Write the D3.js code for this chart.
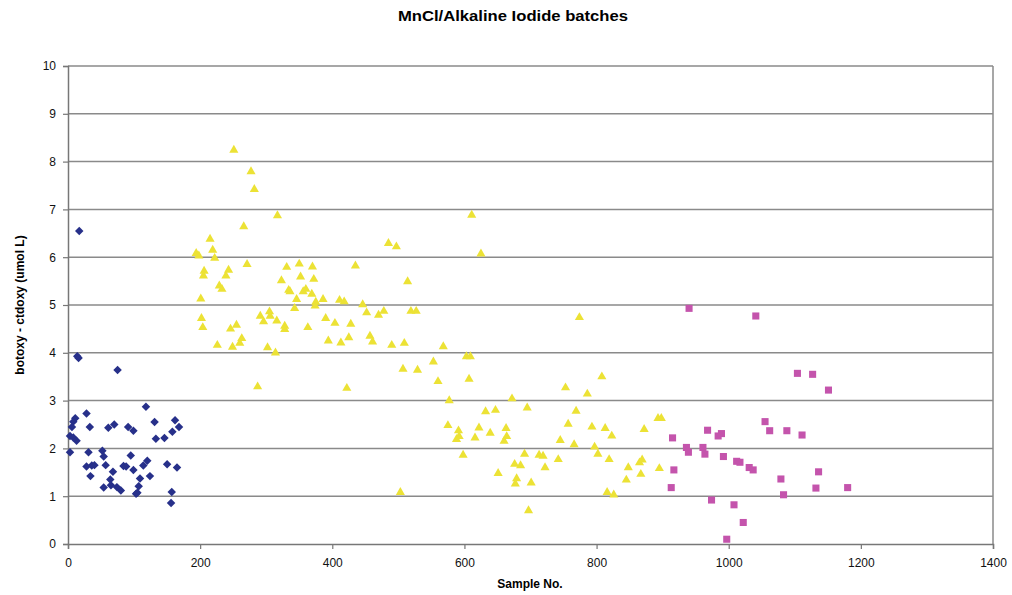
<!DOCTYPE html>
<html>
<head>
<meta charset="utf-8">
<script src="https://d3js.org/d3.v7.min.js"></script>
<style>
body { margin: 0; background: #fff; }
text { font-family: "Liberation Sans", Arial, sans-serif; }
.tick text { font-size: 12px; fill: #111; }
.lbl { font-weight: bold; font-size: 12px; }
</style>
</head>
<body>
<div id="chart"></div>
<script>
// MnCl batch (blue diamonds)
var mnclPts = [[17,6.55],[14,3.93],[16,3.89],[75,3.64],[118,2.87],[28,2.73],[11,2.63],[8,2.56],[6,2.45],[3,2.26],[8,2.23],[13,2.16],
  [3,1.92],[33,2.45],[61,2.43],[70,2.50],[91,2.45],[99,2.37],[131,2.55],[133,2.20],[146,2.22],[158,2.35],[162,2.59],[168,2.45],
  [31,1.92],[52,1.95],[95,1.85],[28,1.62],[36,1.64],[40,1.65],[54,1.83],[57,1.65],[68,1.51],[84,1.63],[88,1.62],[99,1.55],
  [109,1.37],[107,1.21],[114,1.64],[120,1.74],[124,1.42],[150,1.67],[165,1.60],[34,1.42],[64,1.35],[65,1.23],[54,1.18],
  [74,1.19],[80,1.12],[103,1.05],[105,1.07],[157,1.09],[156,0.86]];
// alkaline iodide batch (yellow triangles)
var alkPts = [[251,8.24],[277,7.79],[282,7.42],[317,6.87],[266,6.64],[215,6.38],[219,6.15],[222,5.98],[194,6.08],[198,6.03],
  [271,5.85],[206,5.71],[205,5.61],[243,5.73],[239,5.61],[229,5.40],[233,5.33],[201,5.13],[202,4.72],[204,4.53],[226,4.16],
  [249,4.12],[260,4.20],[263,4.30],[246,4.50],[255,4.58],[287,3.29],[302,4.11],[314,4.00],[291,4.77],[296,4.65],[305,4.86],
  [306,4.77],[316,4.67],[328,4.56],[328,4.49],[331,5.79],[350,5.86],[370,5.80],[352,5.59],[372,5.54],[323,5.51],[334,5.31],
  [336,5.28],[356,5.28],[360,5.33],[369,5.23],[346,5.12],[343,4.93],[375,5.06],[374,4.98],[386,5.12],[363,4.53],[390,4.72],
  [404,4.62],[428,4.60],[411,5.10],[418,5.07],[435,5.82],[394,4.25],[413,4.21],[425,4.32],[422,3.26],[446,5.01],[452,4.84],
  [470,4.79],[478,4.87],[457,4.35],[461,4.23],[490,4.16],[509,4.20],[485,6.29],[497,6.22],[514,5.49],[519,4.87],[527,4.87],
  [507,3.66],[529,3.64],[611,6.88],[625,6.07],[568,4.13],[553,3.81],[603,3.92],[609,3.92],[560,3.40],[607,3.45],[577,3.00],
  [672,3.04],[695,2.85],[753,3.27],[786,3.14],[808,3.50],[575,2.48],[591,2.37],[592,2.25],[588,2.19],[622,2.43],[616,2.22],
  [639,2.32],[632,2.77],[647,2.80],[663,2.42],[664,2.25],[660,2.15],[598,1.86],[691,1.88],[676,1.67],[685,1.64],[713,1.86],
  [719,1.84],[722,1.60],[651,1.48],[679,1.37],[677,1.26],[701,1.28],[742,1.77],[745,2.17],[757,2.51],[769,2.78],[766,2.08],
  [793,2.45],[797,2.03],[802,1.88],[813,2.42],[823,2.26],[819,1.77],[816,1.08],[826,1.03],[697,0.70],[503,1.08],[845,1.34],
  [848,1.60],[865,1.70],[869,1.76],[867,1.46],[872,2.40],[774,4.74],[893,2.63],[898,2.63],[895,1.58]];
// mixed batch (magenta squares)
var mixPts = [[940,4.93],[1041,4.77],[915,2.22],[936,2.02],[939,1.92],[961,2.02],[964,1.88],[968,2.38],[984,2.26],[989,2.31],
  [992,1.83],[1012,1.73],[1017,1.71],[1031,1.60],[1037,1.55],[1055,2.56],[1062,2.37],[917,1.55],[913,1.18],[974,0.92],
  [1008,0.82],[1022,0.45],[997,0.10],[1104,3.57],[1127,3.55],[1151,3.22],[1088,2.37],[1111,2.28],[1079,1.36],[1083,1.03],
  [1136,1.51],[1132,1.17],[1180,1.18]];

var xTicks = [0, 200, 400, 600, 800, 1000, 1200, 1400];
var yTicks = [0, 1, 2, 3, 4, 5, 6, 7, 8, 9, 10];

var W = 1012, H = 595;
var m = {top: 66, right: 19, bottom: 51, left: 68};

var svg = d3.select("#chart").append("svg").attr("width", W).attr("height", H);

var x = d3.scaleLinear().domain([0, 1400]).range([m.left, W - m.right]);
var y = d3.scaleLinear().domain([0, 10]).range([H - m.bottom, m.top]);

// grid
svg.append("g").selectAll("line").data(yTicks.slice(1)).enter().append("line")
  .attr("x1", x(0)).attr("x2", x(1400))
  .attr("y1", function(d) { return y(d); }).attr("y2", function(d) { return y(d); })
  .attr("stroke", "#8a8a8a").attr("stroke-width", 1.5);
svg.append("line").attr("x1", x(1400)).attr("x2", x(1400)).attr("y1", y(0)).attr("y2", y(10))
  .attr("stroke", "#8a8a8a").attr("stroke-width", 1.5);

var ax = svg.append("g").attr("transform", "translate(0," + y(0) + ")")
  .call(d3.axisBottom(x).tickValues(xTicks).tickFormat(d3.format("d")).tickSize(5).tickPadding(9));
var ay = svg.append("g").attr("transform", "translate(" + x(0) + ",0)")
  .call(d3.axisLeft(y).tickValues(yTicks).tickSize(5).tickPadding(7));
[ax, ay].forEach(function(a) {
  a.select(".domain").attr("stroke", "#777").attr("stroke-width", 1.5);
  a.selectAll(".tick line").attr("stroke", "#777").attr("stroke-width", 1.2);
});

// excel-like diamond: rotated square
var diamond = { draw: function(ctx, size) {
  var r = Math.sqrt(size / 2);
  ctx.moveTo(0, -r); ctx.lineTo(r, 0); ctx.lineTo(0, r); ctx.lineTo(-r, 0); ctx.closePath();
} };

function plot(data, type, size, color) {
  svg.append("g").selectAll("path").data(data).enter().append("path")
    .attr("d", d3.symbol().type(type).size(size))
    .attr("transform", function(d) { return "translate(" + x(d[0]) + "," + y(d[1]) + ")"; })
    .attr("fill", color);
}
plot(mnclPts, diamond, 36, "#27308a");
plot(alkPts, d3.symbolTriangle, 36, "#ece235");
plot(mixPts, d3.symbolSquare, 50, "#c454ac");

svg.append("text").attr("class", "lbl").attr("x", 513).attr("y", 21)
  .attr("text-anchor", "middle").style("font-size", "15px").attr("textLength", 230)
  .attr("lengthAdjust", "spacingAndGlyphs").text("MnCl/Alkaline Iodide batches");
svg.append("text").attr("class", "lbl").attr("x", 530).attr("y", 588)
  .attr("text-anchor", "middle").text("Sample No.");
svg.append("text").attr("class", "lbl")
  .attr("transform", "translate(24," + ((y(0) + y(10)) / 2) + ") rotate(-90)")
  .attr("text-anchor", "middle").text("botoxy - ctdoxy (umol L)");
</script>
</body>
</html>
